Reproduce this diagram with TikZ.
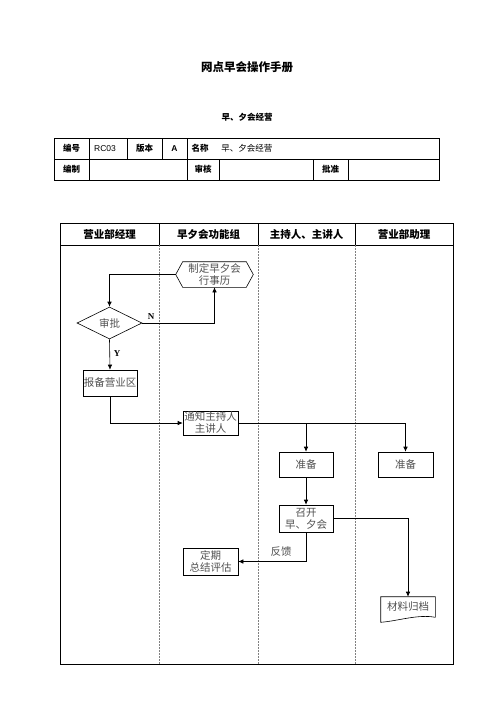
\documentclass[tikz,border=0pt]{standalone}
\usepackage{fontspec}
\setmainfont{Noto Sans CJK SC}
\newfontfamily\serifl{Liberation Serif}
\newfontfamily\sansl{Liberation Sans}
\usetikzlibrary{shapes.geometric,arrows.meta}
\definecolor{ntext}{HTML}{505050}
\begin{document}
\begin{tikzpicture}[x=1pt,y=-1pt,line width=0.6pt,
  box/.style={draw,rectangle,inner sep=0pt,font=\fontsize{10.5}{12}\selectfont,text=ntext,align=center},
  plain/.style={inner sep=0pt,font=\fontsize{10.5}{12}\selectfont,text=ntext,align=center},
  tlab/.style={inner sep=0pt,font=\fontsize{8.5}{10}\selectfont\bfseries},
  tval/.style={inner sep=0pt,font=\fontsize{8.5}{10}\selectfont},
  head/.style={inner sep=0pt,font=\fontsize{10.5}{12}\selectfont\bfseries},
  arr/.style={-{Latex[length=5pt,width=4.5pt]}},
  lane/.style={dashed,gray,line width=0.5pt,dash pattern=on 2pt off 1pt}]
\useasboundingbox (0,0) rectangle (496,702);
% titles
\node[inner sep=0pt,font=\fontsize{11.5}{13}\selectfont\bfseries] (title) at (247,67) {网点早会操作手册};
\node[inner sep=0pt,font=\fontsize{8.5}{10}\selectfont\bfseries] (sub) at (247,117) {早、夕会经营};
% info table
\draw[line width=0.8pt] (54,138) rectangle (439,180);
\draw (54,159) -- (439,159);
\draw (89,138) -- (89,180);
\draw (127,138) -- (127,159);
\draw (162,138) -- (162,159);
\draw (187,138) -- (187,180);
\draw (219,159) -- (219,180);
\draw (313,159) -- (313,180);
\draw (348,159) -- (348,180);
\node[tlab] (t1) at (71.5,148.5) {编号};
\node[tval] (t2) at (105,148.5) {\sansl RC03};
\node[tlab] (t3) at (144.5,148.5) {版本};
\node[tlab] (t4) at (174.5,148.5) {\sansl\bfseries A};
\node[tlab] (t5) at (200,148.5) {名称};
\node[tval,anchor=west] (t6) at (221,148.5) {早、夕会经营};
\node[tlab] (t7) at (71.5,169.5) {编制};
\node[tlab] (t8) at (203,169.5) {审核};
\node[tlab] (t9) at (330.5,169.5) {批准};
% swimlanes
\draw[line width=1pt] (60,223) rectangle (453,664);
\draw (60,245) -- (453,245);
\draw (159,223) -- (159,245);
\draw (258,223) -- (258,245);
\draw (355,223) -- (355,245);
\draw[lane] (159,245) -- (159,664);
\draw[lane] (258,245) -- (258,664);
\draw[lane] (355,245) -- (355,664);
\node[head] (h1) at (109.5,234) {营业部经理};
\node[head] (h2) at (208.5,234) {早夕会功能组};
\node[head] (h3) at (306.5,234) {主持人、主讲人};
\node[head] (h4) at (404,234) {营业部助理};
% nodes
\node[plain,minimum width=77pt,minimum height=25pt] (hex) at (214.5,274.5) {制定早夕会\\行事历};
\draw (hex.west) -- ([xshift=7pt]hex.north west) -- ([xshift=-7pt]hex.north east) -- (hex.east) -- ([xshift=-7pt]hex.south east) -- ([xshift=7pt]hex.south west) -- cycle;
\node[draw,diamond,aspect=2,inner sep=0pt,minimum width=65pt,minimum height=32pt,font=\fontsize{10.5}{12}\selectfont,text=ntext] (dia) at (109.5,323) {审批};
\node[box,minimum width=54pt,minimum height=26pt] (rep) at (110,383) {报备营业区};
\node[box,minimum width=55pt,minimum height=24pt] (tz) at (210.5,423) {通知主持人\\主讲人};
\node[box,minimum width=54pt,minimum height=25pt] (pr1) at (306,464.5) {准备};
\node[box,minimum width=55pt,minimum height=25pt] (pr2) at (405.5,464.5) {准备};
\node[box,minimum width=54pt,minimum height=27pt] (kk) at (306,518.5) {召开\\早、夕会};
\node[box,minimum width=55pt,minimum height=27pt] (dq) at (210.5,561.5) {定期\\总结评估};
\node[plain,minimum width=54pt,minimum height=20pt] (doc) at (408,607) {材料归档};
\draw (doc.south east) -- (doc.north east) -- (doc.north west) -- ([yshift=-5pt]doc.south west)
  .. controls (398,621) and (418,614) .. (doc.south east);
% connectors
\draw[arr] (hex.west) -| (dia.north);
\draw[arr] (dia.east) -| (hex.south);
\node[inner sep=0pt,font=\fontsize{9}{10}\selectfont\serifl\bfseries] (nl) at (151,317) {N};
\draw[arr] (dia.south) -- (rep.north);
\node[inner sep=0pt,font=\fontsize{9}{10}\selectfont\serifl\bfseries] (yl) at (117,354) {Y};
\draw[arr] (rep.south) |- (tz.west);
\draw[arr] (tz.east) -| (pr2.north);
\draw[arr] (pr1.north |- tz.east) -- (pr1.north);
\draw[arr] (pr1.south) -- (kk.north);
\draw[arr] (kk.east) -| (doc.north);
\draw[arr] (kk.south) |- (dq.east);
\node[plain] (fk) at (281,552) {反馈};
\end{tikzpicture}
\end{document}
